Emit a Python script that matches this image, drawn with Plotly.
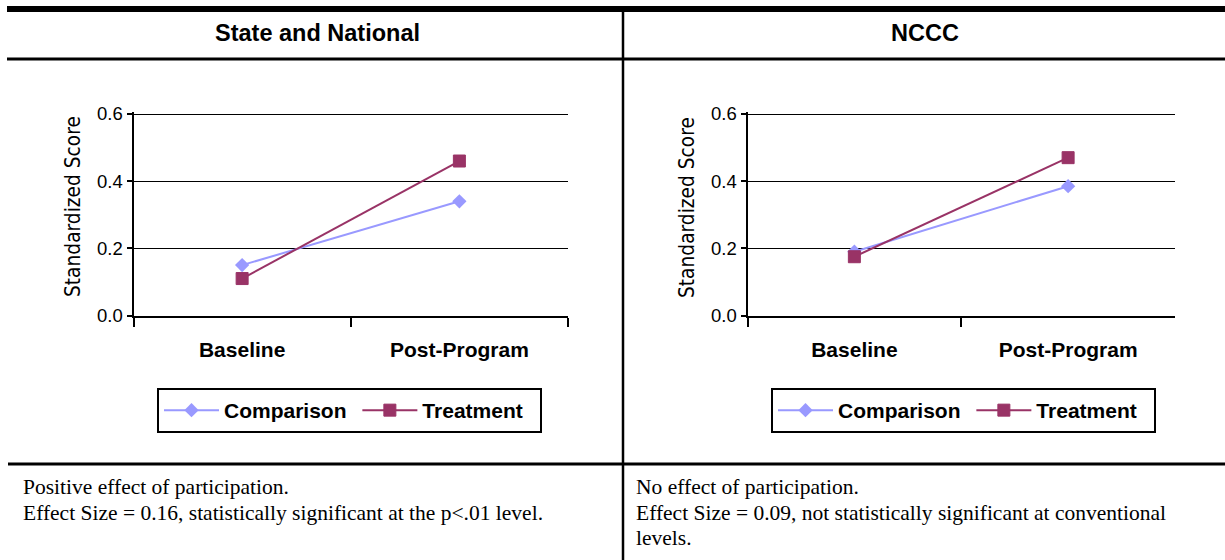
import plotly.graph_objects as go

categories = ["Baseline", "Post-Program"]
panel_titles = ["State and National", "NCCC"]
series_names = ["Comparison\u00a0", "Treatment\u00a0\u00a0"]
y_title = "Standardized Score"
sn_comparison = [0.15, 0.34]
sn_treatment = [0.11, 0.46]
nccc_comparison = [0.19, 0.385]
nccc_treatment = [0.175, 0.47]
notes_left = ["Positive effect of participation.",
              "Effect Size = 0.16, statistically significant at the p<.01 level."]
notes_right = ["No effect of participation.",
               "Effect Size = 0.09, not statistically significant at conventional",
               "levels."]
y_ticks = [0.0, 0.2, 0.4, 0.6]

W, H = 1225, 560
COMP = "#9999FF"
TREAT = "#993366"

def px(x):
    return x / W

def py(y):
    return 1 - y / H

fig = go.Figure()

panels = [
    dict(xa="x", ya="y", comp=sn_comparison, treat=sn_treatment, legend="legend"),
    dict(xa="x2", ya="y2", comp=nccc_comparison, treat=nccc_treatment, legend="legend2"),
]
for p in panels:
    fig.add_trace(go.Scatter(
        x=categories, y=p["comp"], xaxis=p["xa"], yaxis=p["ya"], name=series_names[0],
        mode="lines+markers", line=dict(color=COMP, width=2),
        marker=dict(symbol="diamond", size=11, color=COMP),
        legend=p["legend"]))
    fig.add_trace(go.Scatter(
        x=categories, y=p["treat"], xaxis=p["xa"], yaxis=p["ya"], name=series_names[1],
        mode="lines+markers", line=dict(color=TREAT, width=2),
        marker=dict(symbol="square", size=12, color=TREAT,
                    line=dict(color=TREAT, width=1)),
        legend=p["legend"]))

# y range slightly above 0.6 so the 0.6 gridline is drawn; 0.6 stays at y=114 px
Y_TOP = 0.605
y0_px, y06_px = 315.5, 114.0
ytop_px = y0_px - (y0_px - y06_px) * Y_TOP / 0.6
ydom = [py(y0_px), py(ytop_px)]

xaxis_common = dict(
    type="category", range=[-0.5, 1.5], tickson="boundaries",
    ticks="outside", ticklen=9, tickwidth=2, tickcolor="black",
    showline=True, linecolor="black", linewidth=2, showgrid=False,
    ticklabelstandoff=14, automargin=False,
    tickfont=dict(family="Liberation Sans, Arial", size=21, color="black", weight="bold"),
    fixedrange=True,
)
yaxis_common = dict(
    range=[0, Y_TOP], tickvals=y_ticks, tickformat=".1f",
    ticks="outside", ticklen=5, tickwidth=2, tickcolor="black",
    showline=True, linecolor="black", linewidth=2, automargin=False,
    showgrid=True, gridcolor="black", gridwidth=1, zeroline=False,
    tickfont=dict(family="Liberation Sans, Arial", size=18.5, color="black"),
)

legend_common = dict(
    orientation="h", xanchor="left", yanchor="top",
    bordercolor="black", borderwidth=2, bgcolor="white",
    font=dict(family="Liberation Sans, Arial", size=21, color="black", weight="bold"),
    itemwidth=55, tracegroupgap=0,
)

fig.update_layout(
    width=W, height=H, autosize=False,
    margin=dict(l=0, r=0, t=0, b=0, pad=0, autoexpand=False),
    paper_bgcolor="white", plot_bgcolor="white",
    xaxis=dict(domain=[px(133.5), px(568)], anchor="y", **xaxis_common),
    yaxis=dict(domain=ydom, anchor="x", **yaxis_common),
    xaxis2=dict(domain=[px(747.5), px(1175)], anchor="y2", **xaxis_common),
    yaxis2=dict(domain=ydom, anchor="x2", **yaxis_common),
    legend=dict(x=px(157), y=py(388), **legend_common),
    legend2=dict(x=px(771), y=py(388), **legend_common),
    showlegend=True,
)

# table frame lines
shapes = [
    dict(type="line", xref="paper", yref="paper", x0=px(7), x1=1, y0=py(9), y1=py(9),
         line=dict(color="black", width=6)),
    dict(type="line", xref="paper", yref="paper", x0=px(7), x1=1, y0=py(59), y1=py(59),
         line=dict(color="black", width=3)),
    dict(type="line", xref="paper", yref="paper", x0=px(8), x1=1, y0=py(464), y1=py(464),
         line=dict(color="black", width=3)),
    dict(type="line", xref="paper", yref="paper", x0=px(623), x1=px(623), y0=py(12), y1=0,
         line=dict(color="black", width=2.5)),
]
fig.update_layout(shapes=shapes)

ann = []
for title, cx in zip(panel_titles, [317, 925]):
    ann.append(dict(text=title, x=px(cx), y=py(33), xref="paper", yref="paper",
                    xanchor="center", yanchor="middle", showarrow=False,
                    font=dict(family="Liberation Sans, Arial", size=23.5, color="black", weight="bold")))
for cx in [73, 687]:
    ann.append(dict(text=y_title, x=px(cx), y=py(207), xref="paper", yref="paper",
                    xanchor="center", yanchor="middle", showarrow=False, textangle=-90,
                    font=dict(family="Liberation Sans Narrow, Arial Narrow, DejaVu Sans Condensed, Arial",
                              size=20.7, color="black")))
serif = dict(family="Liberation Serif, Times New Roman", size=21.5, color="black")
for lines, x0 in [(notes_left, 21), (notes_right, 634)]:
    for i, t in enumerate(lines):
        ann.append(dict(text=t, x=px(x0), y=py(487 + 25.5 * i), xref="paper", yref="paper",
                        xanchor="left", yanchor="middle", showarrow=False, font=serif))
fig.update_layout(annotations=ann)

fig.write_html("out.html", config={"displayModeBar": False})
